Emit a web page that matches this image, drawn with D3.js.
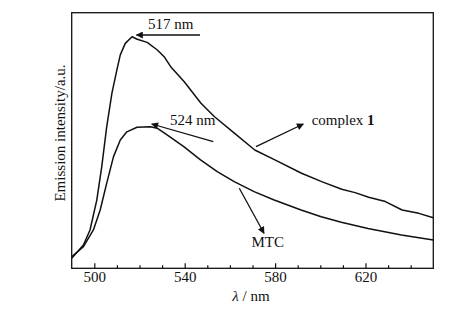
<!DOCTYPE html>
<html><head>
<script src="https://d3js.org/d3.v7.min.js"></script>
<style>
body { margin: 0; background: #fff; }
svg text { font-family: 'Liberation Serif', 'Times New Roman', serif; fill: #111; }
</style>
</head>
<body>
<svg id="chart" width="470" height="323"></svg>
<script>
// wavelengths (nm) and intensities (a.u.)
const complexX = [490, 495.2, 498.1, 501.1, 503.3, 505.5, 507.8, 510, 511.5, 513.7, 516.7, 519, 523.4, 527.9, 530.9, 533.8, 539.8, 547.2, 553.2, 562.1, 571, 579.9, 591.7, 600.6, 609.5, 615.4, 621.4, 628.8, 636.2, 643.6, 650];
const complexY = [3.9, 9.1, 15.0, 26.7, 39.8, 55.4, 68.5, 77.6, 83.5, 88.0, 90.6, 89.6, 88.4, 85.4, 82.8, 78.9, 73.0, 64.6, 59.3, 52.8, 46.3, 42.4, 37.2, 33.9, 30.9, 29.6, 27.8, 26.1, 22.8, 21.5, 19.8];
const mtcX = [490, 495.2, 499.6, 502.6, 505.5, 508.5, 511.5, 514.4, 518.9, 524.8, 527.8, 532.2, 539.6, 547, 554.4, 561.9, 570.7, 579.6, 591.5, 600.4, 609.3, 621.1, 635.9, 650];
const mtcY = [4.5, 8.5, 15.0, 22.8, 33.3, 43.7, 50.2, 53.4, 55.2, 55.4, 54.8, 52.2, 47.6, 42.4, 37.8, 33.9, 30.0, 26.7, 22.8, 20.2, 18.0, 15.6, 13.0, 11.1];
const majorTicks = [500, 540, 580, 620];
const minorTicks = [510, 520, 530, 550, 560, 570, 590, 600, 610, 630, 640];

const svg = d3.select('#chart');
const mLeft = 71.7, mRight = 433.3, mTop = 12.7, mBottom = 268.3;
const fs = 15;

const x = d3.scaleLinear().domain([490, 650]).range([mLeft, mRight]);
const y = d3.scaleLinear().domain([0, 100]).range([mBottom, mTop]);

svg.append('defs').append('marker')
  .attr('id', 'arrow')
  .attr('viewBox', '0 0 10 10')
  .attr('refX', 9).attr('refY', 5)
  .attr('markerWidth', 9).attr('markerHeight', 7)
  .attr('markerUnits', 'userSpaceOnUse')
  .attr('orient', 'auto')
  .append('path').attr('d', 'M0,0 L10,5 L0,10 z').attr('fill', '#111');

const line = d3.line().x(d => x(d[0])).y(d => y(d[1]));

// curves
[[complexX, complexY], [mtcX, mtcY]].forEach(s => {
  svg.append('path')
    .datum(s[0].map((v, i) => [v, s[1][i]]))
    .attr('d', line)
    .attr('fill', 'none')
    .attr('stroke', '#111')
    .attr('stroke-width', 1.5)
    .attr('stroke-linejoin', 'round');
});

// bottom axis, ticks pointing inward
const axisMajor = d3.axisBottom(x).tickValues(majorTicks).tickSize(-5).tickPadding(3);
const axisMinor = d3.axisBottom(x).tickValues(minorTicks).tickSize(-3).tickFormat('');
const gMaj = svg.append('g').attr('transform', `translate(0,${mBottom})`).call(axisMajor);
const gMin = svg.append('g').attr('transform', `translate(0,${mBottom})`).call(axisMinor);
[gMaj, gMin].forEach(g => {
  g.select('.domain').remove();
  g.selectAll('line').attr('stroke', '#111').attr('stroke-width', 1.2);
});
gMaj.selectAll('text')
  .attr('font-size', fs)
  .attr('font-family', "'Liberation Serif', serif")
  .attr('fill', '#111');

// frame
svg.append('rect')
  .attr('x', mLeft).attr('y', mTop)
  .attr('width', mRight - mLeft).attr('height', mBottom - mTop)
  .attr('fill', 'none').attr('stroke', '#111').attr('stroke-width', 1.3);

// axis titles
const xt = svg.append('text')
  .attr('x', 251).attr('y', 301)
  .attr('text-anchor', 'middle').attr('font-size', fs);
xt.append('tspan').attr('font-style', 'italic').text('λ');
xt.append('tspan').text(' / nm');

svg.append('text')
  .attr('transform', 'translate(65,133) rotate(-90)')
  .attr('text-anchor', 'middle').attr('font-size', fs)
  .text('Emission intensity/a.u.');

// annotations
function arrow(x1, y1, x2, y2) {
  svg.append('line')
    .attr('x1', x1).attr('y1', y1).attr('x2', x2).attr('y2', y2)
    .attr('stroke', '#111').attr('stroke-width', 1.3)
    .attr('marker-end', 'url(#arrow)');
}
arrow(200, 35, 136.5, 35);
arrow(213.3, 141.7, 151.7, 124);
arrow(256, 146.7, 303.3, 124);
arrow(239.3, 188.3, 264, 233.3);

svg.append('text').attr('x', 148).attr('y', 29).attr('font-size', fs).text('517 nm');
svg.append('text').attr('x', 170).attr('y', 125).attr('font-size', fs).text('524 nm');
const ct = svg.append('text').attr('x', 311.7).attr('y', 125).attr('font-size', fs);
ct.append('tspan').text('complex ');
ct.append('tspan').attr('font-weight', 'bold').text('1');
svg.append('text').attr('x', 251.5).attr('y', 247).attr('font-size', fs).text('MTC');
</script>
</body></html>
